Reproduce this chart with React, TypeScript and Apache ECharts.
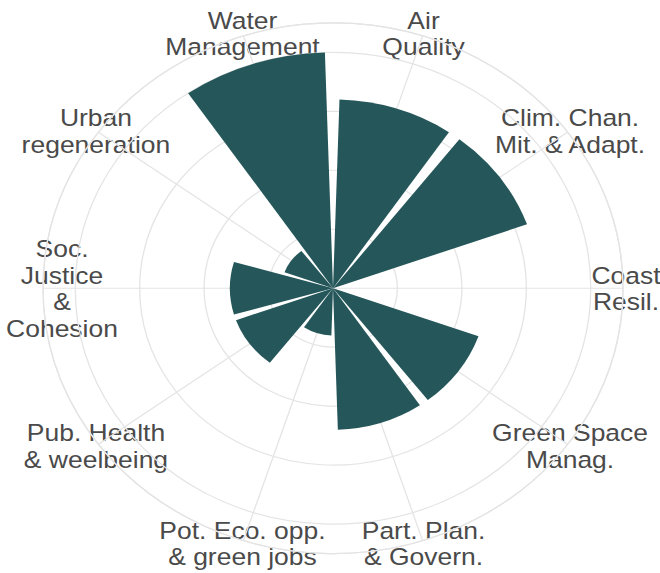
import React, { useEffect, useRef } from "react";
import * as echarts from "echarts";

// Categories in angular order (clockwise from 12 o'clock)
const categories = [
  "Air\nQuality",
  "Clim. Chan.\nMit. & Adapt.",
  "Coast\nResil.",
  "Green Space\nManag.",
  "Part. Plan.\n& Govern.",
  "Pot. Eco. opp.\n& green jobs",
  "Pub. Health\n& weelbeing",
  "Soc.\nJustice\n&\nCohesion",
  "Urban\nregeneration",
  "Water\nManagement",
];

// Share of mentions (%)
const shares = [16, 16, 0, 12, 12, 4, 8, 8, 4, 20];

// Radial scale
const radiusMax = 22.5;
const radiusStep = 5;

// Layout
const SQUEEZE = 0.915;
const W = 660;
const H = 573;
const CH = Math.round(H / SQUEEZE);
const CX = 333;
const CY = 315;
const R = 290;
const LABEL_R = 293;
const LABEL_DX = [0, 0, 0, 0, 0, 0, 0, 22, 0, 0];

const GRID = "#e4e4e4";
const BAR = "#25575a";
const TEXT = "#4a4a4a";

export default function App() {
  const ref = useRef<HTMLDivElement>(null);
  useEffect(() => {
    if (!ref.current) return;
    const chart = echarts.init(ref.current, null, { renderer: "svg" });
    const n = categories.length;
    const step = 360 / n;
    const labels = categories.map((c, i) => {
      const a = ((i + 0.5) * step * Math.PI) / 180;
      return {
        type: "text",
        x: CX + LABEL_R * Math.sin(a) + LABEL_DX[i],
        y: CY - LABEL_R * Math.cos(a),
        silent: true,
        style: {
          text: c,
          fill: TEXT,
          fontSize: 26.5,
          fontFamily: "'Liberation Sans', Arial, sans-serif",
          align: "center",
          verticalAlign: "middle",
          lineHeight: 29,
        },
      };
    });
    chart.setOption({
      animation: false,
      backgroundColor: "#ffffff",
      polar: [
        { center: [CX, CY], radius: R },
        { center: [CX, CY], radius: R },
      ],
      angleAxis: [
        {
          polarIndex: 0,
          type: "value",
          min: 0,
          max: 360,
          interval: step,
          startAngle: 90 - step / 2,
          clockwise: true,
          axisLine: { show: true, lineStyle: { color: GRID, width: 1.3 } },
          axisTick: { show: false },
          axisLabel: { show: false },
          splitLine: { show: true, lineStyle: { color: GRID, width: 1.3 } },
        },
        {
          polarIndex: 1,
          type: "category",
          data: categories,
          startAngle: 90,
          clockwise: true,
          boundaryGap: true,
          axisLine: { show: false },
          axisTick: { show: false },
          axisLabel: { show: false },
          splitLine: { show: false },
        },
      ],
      radiusAxis: [
        {
          polarIndex: 0,
          type: "value",
          min: 0,
          max: radiusMax,
          interval: radiusStep,
          axisLine: { show: false },
          axisTick: { show: false },
          axisLabel: { show: false },
          splitLine: { show: true, lineStyle: { color: GRID, width: 1.3 } },
        },
        {
          polarIndex: 1,
          type: "value",
          min: 0,
          max: radiusMax,
          axisLine: { show: false },
          axisTick: { show: false },
          axisLabel: { show: false },
          splitLine: { show: false },
        },
      ],
      series: [
        {
          type: "bar",
          coordinateSystem: "polar",
          polarIndex: 1,
          data: shares,
          barCategoryGap: "10%",
          itemStyle: { color: BAR },
        },
      ],
      graphic: labels,
    });
    return () => chart.dispose();
  }, []);

  return (
    <div
      style={{
        position: "fixed",
        left: 0,
        top: 0,
        width: W,
        height: H,
        overflow: "hidden",
        background: "#ffffff",
      }}
    >
      <div
        ref={ref}
        style={{
          width: W,
          height: CH,
          transform: `scaleY(${SQUEEZE})`,
          transformOrigin: "0 0",
        }}
      />
    </div>
  );
}
